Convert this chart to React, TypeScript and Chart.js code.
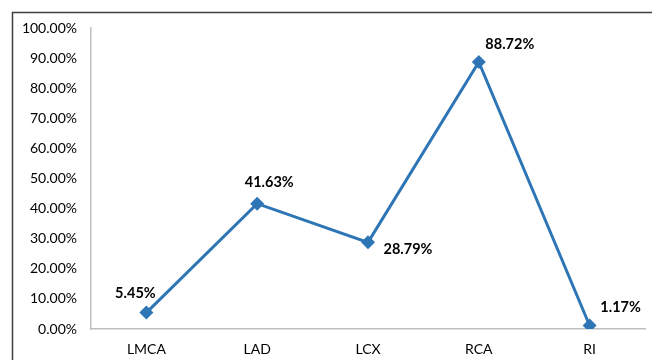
import React, { useEffect, useRef } from "react";
import { Chart, registerables } from "chart.js";

Chart.register(...registerables);

const categories = ["LMCA", "LAD", "LCX", "RCA", "RI"];
const values = [5.45, 41.63, 28.79, 88.72, 1.17];
const yMin = 0;
const yMax = 100;
const yStep = 10;

// label offsets relative to point (style only)
const labelOffsets = [
  [-11, -19],
  [12, -21],
  [40, 7],
  [31, -18],
  [31, -18],
];

const FONT = "Lato, 'Open Sans', sans-serif";

const framePlugin = {
  id: "frame",
  beforeDraw(chart: any) {
    const ctx = chart.ctx;
    ctx.save();
    ctx.strokeStyle = "#3f3f3f";
    ctx.lineWidth = 1.5;
    ctx.beginPath();
    ctx.moveTo(12.5, 360);
    ctx.lineTo(12.5, 12.5);
    ctx.lineTo(652, 12.5);
    ctx.stroke();
    ctx.restore();
  },
};

const labelPlugin = {
  id: "pointLabels",
  afterDatasetsDraw(chart: any) {
    const ctx = chart.ctx;
    const meta = chart.getDatasetMeta(0);
    ctx.save();
    ctx.font = `bold 14.5px ${FONT}`;
    ctx.fillStyle = "#000";
    ctx.textAlign = "center";
    ctx.textBaseline = "middle";
    meta.data.forEach((pt: any, i: number) => {
      const [dx, dy] = labelOffsets[i];
      ctx.fillText(values[i].toFixed(2) + "%", pt.x + dx, pt.y + dy);
    });
    ctx.restore();
  },
};

export default function App() {
  const ref = useRef<HTMLCanvasElement>(null);
  useEffect(() => {
    const chart = new Chart(ref.current!, {
      type: "line",
      data: {
        labels: categories,
        datasets: [
          {
            data: values,
            borderColor: "#2e75b6",
            backgroundColor: "#2e75b6",
            borderWidth: 3,
            pointStyle: "rectRot",
            pointRadius: 7,
            pointBorderWidth: 0,
            pointBackgroundColor: "#2e75b6",
            tension: 0,
          },
        ],
      },
      options: {
        animation: false,
        responsive: false,
        maintainAspectRatio: false,
        layout: { padding: { top: 28, right: 5, left: 0, bottom: 0 } },
        plugins: { legend: { display: false }, tooltip: { enabled: false } },
        scales: {
          x: {
            offset: true,
            grid: { display: false, drawTicks: false, offset: true },
            border: { display: true, color: "#bfbfbf", width: 1.5 },
            ticks: { font: { family: FONT, size: 14 }, color: "#000", padding: 12 },
            afterFit: (s: any) => {
              s.height = 31;
            },
          },
          y: {
            min: yMin,
            max: yMax,
            grid: { display: false, drawTicks: false },
            border: { display: true, color: "#bfbfbf", width: 1.5 },
            ticks: {
              stepSize: yStep,
              font: { family: FONT, size: 14 },
              color: "#000",
              padding: 14,
              callback: (v: any) => Number(v).toFixed(2) + "%",
            },
            afterFit: (s: any) => {
              s.width = 91;
            },
          },
        },
      },
      plugins: [framePlugin, labelPlugin],
    });
    return () => chart.destroy();
  }, []);
  return (
    <div style={{ position: "fixed", left: 0, top: 0, width: 652, height: 360, background: "#fff" }}>
      <canvas ref={ref} width={652} height={360} style={{ width: 652, height: 360 }} />
    </div>
  );
}
